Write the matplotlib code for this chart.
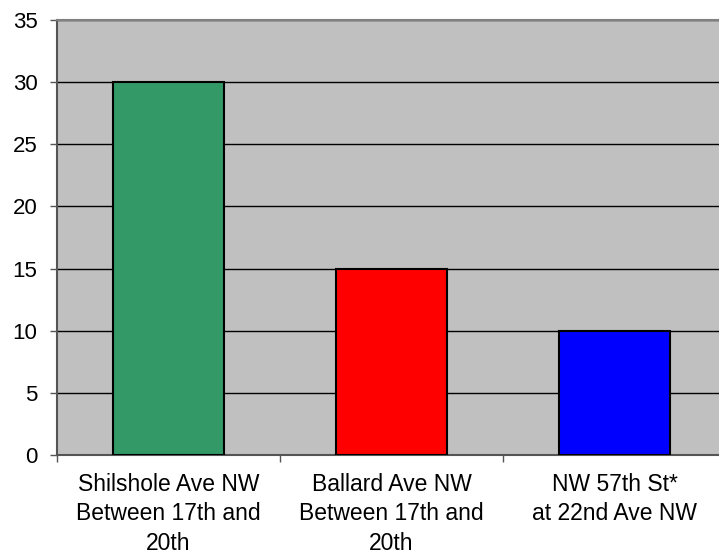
import matplotlib.pyplot as plt
import numpy as np

plt.rcParams['font.family'] = ['Liberation Sans', 'DejaVu Sans']

# Valores por ubicación
locations = ['Shilshole Ave NW\nBetween 17th and\n20th',
             'Ballard Ave NW\nBetween 17th and\n20th',
             'NW 57th St*\nat 22nd Ave NW']
counts = [30, 15, 10]
bar_colors = ['#339966', '#FF0000', '#0000FF']
y_ticks = [0, 5, 10, 15, 20, 25, 30, 35]

fig = plt.figure(figsize=(7.19, 5.56), dpi=100)
# el área del gráfico se sale un poco por la derecha
ax = fig.add_axes([57 / 719, 1 - 455 / 556, 669 / 719, 435 / 556])
ax.set_facecolor('#C0C0C0')

x = np.arange(len(counts))
ax.bar(x, counts, width=0.5, color=bar_colors, edgecolor='black', linewidth=1.5, zorder=3)

ax.set_xlim(-0.5, len(counts) - 0.5)
ax.set_ylim(0, 35)
ax.set_yticks(y_ticks)
ax.yaxis.grid(True, color='black', linewidth=1, zorder=1)
ax.set_axisbelow(True)
ax.tick_params(axis='y', labelsize=16, length=5, width=1, color='#555555', pad=9)

# marcas del eje x entre categorías, etiquetas centradas
ax.set_xticks(np.arange(len(counts) + 1) - 0.5)
ax.set_xticklabels([])
ax.set_xticks(x, minor=True)
ax.set_xticklabels(locations, minor=True, fontsize=16.5, linespacing=1.35)
ax.tick_params(axis='x', which='major', length=5, width=1, color='#555555')
ax.tick_params(axis='x', which='minor', length=0, pad=13)

ax.spines['top'].set_color('#808080')
ax.spines['top'].set_linewidth(1.5)
ax.spines['left'].set_color('#555555')
ax.spines['left'].set_linewidth(1.5)
ax.spines['bottom'].set_color('#555555')
ax.spines['bottom'].set_linewidth(1.5)
ax.spines['right'].set_visible(False)

fig.savefig('out.png', dpi=100)
